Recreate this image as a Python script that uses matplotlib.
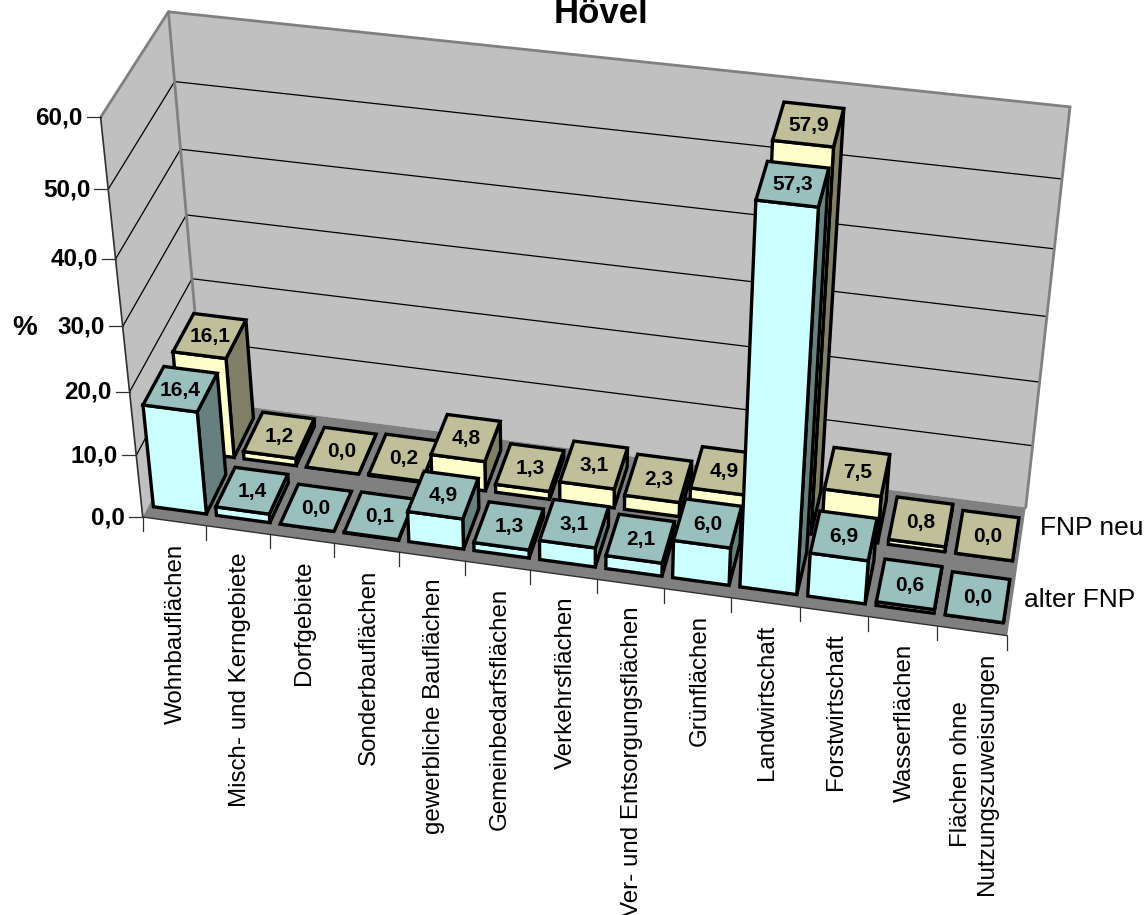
import numpy as np
import matplotlib
matplotlib.use("Agg")
import matplotlib.pyplot as plt
from matplotlib.patches import Polygon

plt.rcParams['font.family'] = ['Liberation Sans', 'DejaVu Sans']

# Land use categories, one bar pair per category
categories = ["Wohnbauflächen", "Misch- und Kerngebiete", "Dorfgebiete", "Sonderbauflächen",
              "gewerbliche Bauflächen", "Gemeinbedarfsflächen", "Verkehrsflächen",
              "Ver- und Entsorgungsflächen", "Grünflächen", "Landwirtschaft", "Forstwirtschaft",
              "Wasserflächen", "Flächen ohne\nNutzungszuweisungen"]
alter_fnp = [16.4, 1.4, 0.0, 0.1, 4.9, 1.3, 3.1, 2.1, 6.0, 57.3, 6.9, 0.6, 0.0]
fnp_neu = [16.1, 1.2, 0.0, 0.2, 4.8, 1.3, 3.1, 2.3, 4.9, 57.9, 7.5, 0.8, 0.0]
z_ticks = [0, 10, 20, 30, 40, 50, 60]
z_labels = ["0,0", "10,0", "20,0", "30,0", "40,0", "50,0", "60,0"]

ZMAX = 60.0
N = len(categories)

# Camera: solve the 3x4 projection from the corners of the chart box
# (x = category, y = depth 0..1, z = percent) to pixel positions
box_world = [(0, 0, 0), (0, 0, ZMAX), (0, 1, 0), (0, 1, ZMAX), (N, 1, 0), (N, 1, ZMAX), (N, 0, 0)]
box_pixel = [(143.5, 517), (100, 117), (202, 401), (169, 12), (1026, 507), (1070, 107), (1007, 636)]

rows = []
for (X, Y, Z), (u, v) in zip(box_world, box_pixel):
    rows.append([X, Y, Z, 1, 0, 0, 0, 0, -u * X, -u * Y, -u * Z, -u])
    rows.append([0, 0, 0, 0, X, Y, Z, 1, -v * X, -v * Y, -v * Z, -v])
cam = np.linalg.svd(np.array(rows, dtype=float))[2][-1].reshape(3, 4)


def project(x, y, z):
    p = cam @ np.array([x, y, z, 1.0])
    return p[0] / p[2], p[1] / p[2]


fig = plt.figure(figsize=(11.45, 9.15), dpi=100)
ax = fig.add_axes([0, 0, 1, 1])
ax.set_xlim(0, 1145)
ax.set_ylim(915, 0)
ax.axis('off')


def face(points, color, edge='none', lw=0.0, z=1):
    ax.add_patch(Polygon([project(*p) for p in points], closed=True, facecolor=color,
                         edgecolor=edge, linewidth=lw, joinstyle='miter', zorder=z))


def line3d(a, b, color='black', lw=1.0, z=2):
    pa, pb = project(*a), project(*b)
    ax.plot([pa[0], pb[0]], [pa[1], pb[1]], color=color, lw=lw, zorder=z, solid_capstyle='round')


# Walls and floor
face([(0, 1, 0), (N, 1, 0), (N, 1, ZMAX), (0, 1, ZMAX)], '#C0C0C0')
face([(0, 0, 0), (0, 1, 0), (0, 1, ZMAX), (0, 0, ZMAX)], '#C0C0C0')
face([(0, 0, 0), (N, 0, 0), (N, 1, 0), (0, 1, 0)], '#808080')

# Gridlines on both walls
for t in z_ticks[1:-1]:
    line3d((0, 0, t), (0, 1, t), lw=0.9)
    line3d((0, 1, t), (N, 1, t), lw=0.9)

# Wall frame
for a, b in [((0, 0, ZMAX), (0, 1, ZMAX)), ((0, 1, ZMAX), (N, 1, ZMAX)),
             ((0, 1, 0), (0, 1, ZMAX)), ((N, 1, 0), (N, 1, ZMAX))]:
    line3d(a, b, color='#808080', lw=2.0)

# Value axis with ticks and labels
line3d((0, 0, 0), (0, 0, ZMAX), color='#303030', lw=1.2, z=3)
for t, lab in zip(z_ticks, z_labels):
    px, py = project(0, 0, t)
    ax.plot([px - 14, px], [py, py], color='#303030', lw=0.9, zorder=3)
    ax.text(px - 18, py + 0.5, lab, ha='right', va='center', fontsize=17.5, fontweight='bold')

# Category axis
line3d((0, 0, 0), (N, 0, 0), color='#303030', lw=1.0, z=3)
for i in range(N + 1):
    px, py = project(i, 0, 0)
    ax.plot([px, px], [py, py + 14], color='#303030', lw=0.9, zorder=3)
for i, name in enumerate(categories):
    px, py = project(i + 0.5, 0, 0)
    ax.text(px + 2, py + 22, name, rotation=90, ha='center', va='top', fontsize=17.4,
            multialignment='center', linespacing=1.25)

# Bars, rear series first so the front series overlaps it
GAP = 0.08
series = [(fnp_neu, 0.565, 0.91, '#FFFFCC', '#BFBF99', '#7F7F66', 10),
          (alter_fnp, 0.09, 0.42, '#CCFFFF', '#99BFBF', '#667F7F', 20)]
for values, y0, y1, c_front, c_top, c_side, base in series:
    for i, val in enumerate(values):
        x0, x1 = i + GAP, i + 1 - GAP
        z = base + i * 0.1
        edge = dict(edge='black', lw=2.4, z=z)
        face([(x1, y0, 0), (x1, y1, 0), (x1, y1, val), (x1, y0, val)], c_side, **edge)
        face([(x0, y0, 0), (x1, y0, 0), (x1, y0, val), (x0, y0, val)], c_front, **edge)
        face([(x0, y0, val), (x1, y0, val), (x1, y1, val), (x0, y1, val)], c_top, **edge)
        px, py = project(i + 0.5, (y0 + y1) / 2, val)
        ax.text(px, py + 1, f"{val:.1f}".replace('.', ','), ha='center', va='center',
                fontsize=15, fontweight='bold', zorder=z + 0.05)

# Series names beside the depth axis
ax.text(1040, 528, "FNP neu", ha='left', va='center', fontsize=19)
ax.text(1024, 600, "alter FNP", ha='left', va='center', fontsize=19)

ax.text(24.5, 328, "%", ha='center', va='center', fontsize=20, fontweight='bold')
ax.text(600.5, 23, "Hövel", ha='center', va='baseline', fontsize=25, fontweight='bold')

fig.savefig("out.png", dpi=100)
